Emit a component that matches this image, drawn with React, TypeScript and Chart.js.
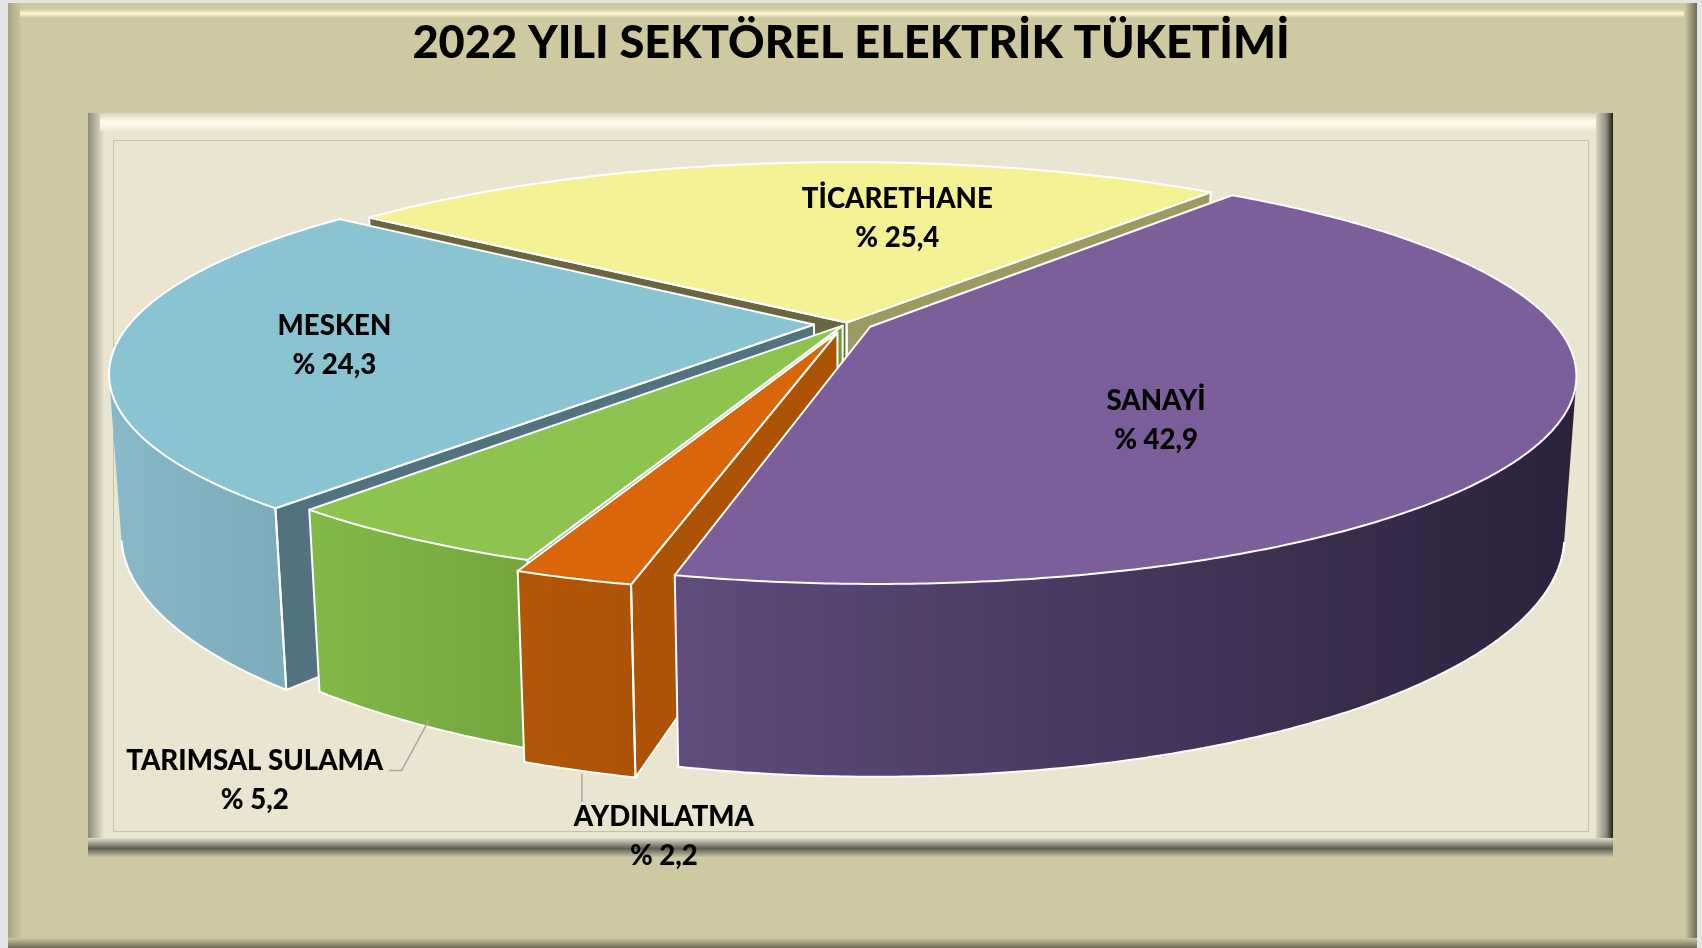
import React, { useEffect, useRef } from 'react';
import { Chart, registerables } from 'chart.js';

Chart.register(...registerables);

// ---------------- data ----------------
const TITLE = '2022 YILI SEKTÖREL ELEKTRİK TÜKETİMİ';
const categories = ['SANAYİ', 'AYDINLATMA', 'TARIMSAL SULAMA', 'MESKEN', 'TİCARETHANE'];
const shares = [42.9, 2.2, 5.2, 24.3, 25.4];
const shareLabels = shares.map((v) => '% ' + v.toFixed(1).replace('.', ','));

// ---------------- styles ----------------
const TOP_COLORS = ['#7B5E9A', '#D9660A', '#8CC44F', '#8AC3D1', '#F4F295'];
const OUTER_WALL: [string, string][] = [
  ['#614C7E', '#2B223A'],
  ['#B25607', '#AD5305'],
  ['#81B947', '#73A43D'],
  ['#89B9C8', '#7CACBC'],
  ['#8A8957', '#8A8957'],
];
const START_WALL = ['#4A3A60', '#AC5306', '#6C9B3A', '#52737E', '#68673F'];
const END_WALL = ['#4A3A60', '#AC5306', '#6C9B3A', '#52737E', '#9C9A62'];
const EXPLODE = [24, 30, 8, 31, 3];
const DRAW_ORDER = [4, 3, 2, 1, 0];
const RADIUS = 640;
const ROTATION = 38.8;
const VIEW = { vx: 847, vy: 323.5, sx: 684 / 640, a: 197.2, b: 0.2266, g: 0.016, depth: 155.7 };
const LABEL_FONT = '900 27.6px Lato';
const LINE_GAP = 39;

type Pt = [number, number];
type LabelLayout =
  | { kind: 'in'; dAng: number; r: number }
  | { kind: 'out'; leader: Pt[]; text: Pt };

const LABEL_LAYOUT: LabelLayout[] = [
  { kind: 'in', dAng: 21.3, r: 0.6 },
  { kind: 'out', leader: [[3.1, 3.5], [3.1, 31.5]], text: [85.1, 66.5] },
  { kind: 'out', leader: [[11.5, -3.5], [-15.5, 46.5], [-28.5, 46.5]], text: [-162.5, 56.5] },
  { kind: 'in', dAng: -2.0, r: 0.739 },
  { kind: 'in', dAng: 14.8, r: 0.61 },
];

function project(u: number, v: number, z: number): Pt {
  const w = v / RADIUS;
  const f = 1 - VIEW.b * w + VIEW.g * z;
  return [VIEW.vx + (VIEW.sx * u) / f, VIEW.vy + (VIEW.a * w + VIEW.depth * z) / f];
}

function area(pts: Pt[]) {
  let s = 0;
  for (let i = 0; i < pts.length; i++) {
    const p = pts[i];
    const q = pts[(i + 1) % pts.length];
    s += p[0] * q[1] - q[0] * p[1];
  }
  return s / 2;
}

function path(ctx: CanvasRenderingContext2D, pts: Pt[], close: boolean) {
  ctx.beginPath();
  pts.forEach((p, i) => (i ? ctx.lineTo(p[0], p[1]) : ctx.moveTo(p[0], p[1])));
  if (close) ctx.closePath();
}

interface Geom {
  tip: Pt;
  rim: Pt[];
  mid: number;
  ex: number;
  ey: number;
  r: number;
}

function geom(arc: any, i: number): Geom {
  const s = arc.startAngle;
  const e = arc.endAngle;
  const mid = (s + e) / 2;
  const ex = Math.cos(mid) * EXPLODE[i];
  const ey = Math.sin(mid) * EXPLODE[i];
  const r = arc.outerRadius;
  const n = Math.max(2, Math.ceil((e - s) / (Math.PI / 360)));
  const rim: Pt[] = [];
  for (let k = 0; k <= n; k++) {
    const th = s + ((e - s) * k) / n;
    rim.push([ex + r * Math.cos(th), ey + r * Math.sin(th)]);
  }
  return { tip: [ex, ey], rim, mid, ex, ey, r };
}

const T = (p: Pt) => project(p[0], p[1], 0);
const B = (p: Pt) => project(p[0], p[1], 1);
const face = (p: Pt, q: Pt): Pt[] => [T(p), T(q), B(q), B(p)];

function drawWalls(ctx: CanvasRenderingContext2D, g: Geom, i: number) {
  const strokes: { pts: Pt[]; close: boolean }[] = [];
  const n = g.rim.length - 1;
  const sf = face(g.tip, g.rim[0]);
  if (area(sf) < 0) {
    path(ctx, sf, true);
    ctx.fillStyle = START_WALL[i];
    ctx.fill();
    strokes.push({ pts: sf, close: true });
  }
  const ef = face(g.rim[n], g.tip);
  if (area(ef) < 0) {
    path(ctx, ef, true);
    ctx.fillStyle = END_WALL[i];
    ctx.fill();
    strokes.push({ pts: ef, close: true });
  }
  const vis = (k: number) => area(face(g.rim[k], g.rim[k + 1])) < 0;
  let k = 0;
  while (k < n) {
    if (vis(k)) {
      let k1 = k;
      while (k1 + 1 < n && vis(k1 + 1)) k1++;
      const seg = g.rim.slice(k, k1 + 2);
      const top = seg.map(T);
      const bot = seg.map(B);
      const poly = top.concat(bot.slice().reverse());
      let minX = Infinity;
      let maxX = -Infinity;
      poly.forEach((p) => {
        minX = Math.min(minX, p[0]);
        maxX = Math.max(maxX, p[0]);
      });
      const grad = ctx.createLinearGradient(minX, 0, maxX + 1, 0);
      grad.addColorStop(0, OUTER_WALL[i][0]);
      grad.addColorStop(1, OUTER_WALL[i][1]);
      path(ctx, poly, true);
      ctx.fillStyle = grad;
      ctx.fill();
      strokes.push({ pts: bot, close: false });
      if (k === 0) strokes.push({ pts: [top[0], bot[0]], close: false });
      if (k1 + 1 === n) strokes.push({ pts: [top[top.length - 1], bot[bot.length - 1]], close: false });
      k = k1 + 1;
    } else {
      k++;
    }
  }
  ctx.strokeStyle = '#FFFFFF';
  ctx.lineWidth = 2;
  ctx.lineJoin = 'round';
  ctx.lineCap = 'round';
  strokes.forEach((s) => {
    path(ctx, s.pts, s.close);
    ctx.stroke();
  });
}

let lastGeoms: Geom[] = [];

const pie3d = {
  id: 'pie3d',
  beforeDatasetsDraw(chart: any) {
    const ctx: CanvasRenderingContext2D = chart.ctx;
    const arcs: any[] = chart.getDatasetMeta(0).data;
    const geoms = arcs.map((a, i) => geom(a, i));
    lastGeoms = geoms;

    // side walls, back to front
    ctx.save();
    DRAW_ORDER.forEach((i) => drawWalls(ctx, geoms[i], i));
    ctx.restore();

    // top faces: slices drawn by Chart.js onto a flat plane, then tilted in perspective
    const M = 70;
    const S = 2 * (RADIUS + M);
    const off = document.createElement('canvas');
    off.width = S;
    off.height = S;
    const octx = off.getContext('2d') as CanvasRenderingContext2D;
    arcs.forEach((arc, i) => {
      octx.save();
      octx.translate(S / 2 - arc.x + geoms[i].ex, S / 2 - arc.y + geoms[i].ey);
      arc.draw(octx);
      octx.restore();
    });
    ctx.save();
    ctx.imageSmoothingEnabled = true;
    (ctx as any).imageSmoothingQuality = 'high';
    const wMax = S / 2 / RADIUS;
    const yTop = Math.floor(VIEW.vy + (VIEW.a * -wMax) / (1 + VIEW.b * wMax));
    const yBot = Math.ceil(VIEW.vy + (VIEW.a * wMax) / (1 - VIEW.b * wMax));
    for (let y = yTop; y <= yBot; y++) {
      const t = (y + 0.5 - VIEW.vy) / VIEW.a;
      const w = t / (1 + VIEW.b * t);
      const f = 1 - VIEW.b * w;
      const sy = S / 2 + w * RADIUS;
      const sh = Math.max(1, RADIUS / (VIEW.a * (1 + VIEW.b * t) * (1 + VIEW.b * t)));
      let y0 = sy - sh / 2;
      let y1 = sy + sh / 2;
      y0 = Math.max(0, y0);
      y1 = Math.min(S, y1);
      if (y1 - y0 <= 0.01) continue;
      const k = VIEW.sx / f;
      ctx.drawImage(off, 0, y0, S, y1 - y0, VIEW.vx - (k * S) / 2, y, k * S, 1);
    }
    ctx.restore();

    // top outlines
    ctx.save();
    ctx.strokeStyle = '#FFFFFF';
    ctx.lineWidth = 2;
    ctx.lineJoin = 'round';
    geoms.forEach((g) => {
      path(ctx, [T(g.tip), ...g.rim.map(T)], true);
      ctx.stroke();
    });
    ctx.restore();
    return false;
  },
  afterDraw(chart: any) {
    const ctx: CanvasRenderingContext2D = chart.ctx;
    const geoms = lastGeoms;
    if (!geoms.length) return;
    ctx.save();
    ctx.font = LABEL_FONT;
    ctx.fillStyle = '#000000';
    ctx.textAlign = 'center';
    ctx.textBaseline = 'middle';
    geoms.forEach((g, i) => {
      const lay = LABEL_LAYOUT[i];
      let cx: number;
      let cy: number;
      if (lay.kind === 'in') {
        const ang = g.mid + (lay.dAng * Math.PI) / 180;
        const p = project(Math.cos(ang) * lay.r * g.r, Math.sin(ang) * lay.r * g.r, 0);
        cx = p[0];
        cy = p[1];
      } else {
        const anchor = project(g.ex + g.r * Math.cos(g.mid), g.ey + g.r * Math.sin(g.mid), 1);
        ctx.save();
        ctx.strokeStyle = '#A6A6A6';
        ctx.lineWidth = 1.5;
        path(ctx, lay.leader.map((d) => [anchor[0] + d[0], anchor[1] + d[1]] as Pt), false);
        ctx.stroke();
        ctx.restore();
        cx = anchor[0] + lay.text[0];
        cy = anchor[1] + lay.text[1];
      }
      ctx.fillText(categories[i], cx, cy - LINE_GAP / 2);
      ctx.fillText(shareLabels[i], cx, cy + LINE_GAP / 2);
    });
    ctx.restore();
  },
};

function Frame() {
  const abs = (s: React.CSSProperties): React.CSSProperties => ({ position: 'absolute', ...s });
  return (
    <>
      <div style={abs({ left: 8, top: 3, width: 1689, height: 945, background: '#CFC9A1' })} />
      <div style={abs({ left: 8, top: 3, width: 14, height: 945, background: 'linear-gradient(to right, #A9A383, #CFC9A1)' })} />
      <div style={abs({ left: 20, top: 9, width: 1664, height: 9, background: 'linear-gradient(to bottom, rgba(255,249,210,0), #FFF8CF 50%, rgba(255,249,210,0))' })} />
      <div style={abs({ left: 1685, top: 3, width: 12, height: 945, background: 'linear-gradient(to right, #CFC9A1, #6C6850)' })} />
      <div style={abs({ left: 8, top: 938, width: 1689, height: 10, background: 'linear-gradient(to bottom, #CFC9A1, #6C6850)' })} />

      <div style={abs({ left: 88, top: 113, width: 1525, height: 744, background: '#EAE5D0' })} />
      <div style={abs({ left: 88, top: 113, width: 17, height: 744, background: 'linear-gradient(to right, #8E8B78, #EEEAD6)' })} />
      <div style={abs({ left: 100, top: 113, width: 1500, height: 18, background: 'linear-gradient(to bottom, #D8D4BE, #FFFBE8 50%, #EEEAD6)' })} />
      <div style={abs({ left: 1596, top: 113, width: 17, height: 744, background: 'linear-gradient(to right, #D8D4BE, #8F8C7C 60%, #1E1E1C)' })} />
      <div style={abs({ left: 88, top: 838, width: 1525, height: 19, background: 'linear-gradient(to bottom, #E3DFCB, #5F5E52 55%, #C7C2A5)' })} />
      <div style={abs({ left: 113, top: 140, width: 1476, height: 692, border: '1px solid #C6C1A4', boxSizing: 'border-box' })} />
    </>
  );
}

export default function App() {
  const ref = useRef<HTMLCanvasElement | null>(null);
  useEffect(() => {
    if (!ref.current) return;
    const chart = new Chart(ref.current, {
      type: 'pie',
      data: {
        labels: categories,
        datasets: [
          {
            data: shares,
            backgroundColor: TOP_COLORS,
            borderWidth: 0,
            radius: RADIUS,
          } as any,
        ],
      },
      options: {
        animation: false,
        responsive: false,
        rotation: ROTATION,
        events: [],
        layout: { padding: 0 },
        plugins: {
          legend: { display: false },
          tooltip: { enabled: false },
          title: {
            display: true,
            text: TITLE,
            color: '#000000',
            font: { family: 'Lato', size: 45.2, weight: 900, lineHeight: 1.2 },
            padding: { top: 16, bottom: 10 },
          },
        },
      } as any,
      plugins: [pie3d],
    });
    return () => chart.destroy();
  }, []);
  return (
    <div style={{ position: 'fixed', left: 0, top: 0, width: 1702, height: 948, background: '#E4E4E4', overflow: 'hidden' }}>
      <Frame />
      <canvas ref={ref} width={1702} height={948} style={{ position: 'absolute', left: 0, top: 0, width: 1702, height: 948 }} />
    </div>
  );
}
